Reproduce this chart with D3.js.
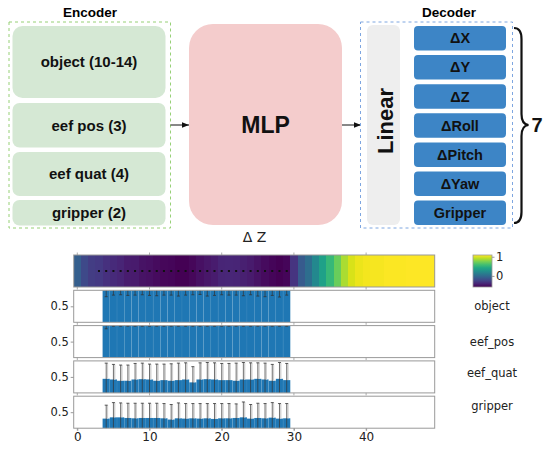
<!DOCTYPE html>
<html lang="en">
<head>
    <meta charset="UTF-8">
    <title>Encoder / MLP / Decoder</title>
    <script src="https://cdn.jsdelivr.net/npm/d3@7"></script>
</head>
<style>
    body { margin: 0; background: #fff; }
    .diag { font-family: "Liberation Sans", Arial, sans-serif; font-weight: bold; }
    .plt { font-family: "DejaVu Sans", sans-serif; fill: #222; }
</style>
<body>
<div class="box"></div>
<script>
    // ---- diagram contents ----
    const encoderParts = ["object (10-14)", "eef pos (3)", "eef quat (4)", "gripper (2)"];
    const decoderParts = ["ΔX", "ΔY", "ΔZ", "ΔRoll", "ΔPitch", "ΔYaw", "Gripper"];

    // ---- chart data ----
    // heat row (attention value per step, colour range -0.58 .. 1.09)
    const heatValues = [-0.08, -0.21, -0.28, -0.30, -0.35, -0.38, -0.41, -0.45, -0.46, -0.50,
        -0.51, -0.53, -0.55, -0.56, -0.58, -0.58, -0.55, -0.51, -0.48, -0.45,
        -0.41, -0.40, -0.41, -0.43, -0.46, -0.50, -0.53, -0.56, -0.58, -0.56,
        -0.33, -0.11, 0.02, 0.20, 0.37, 0.54, 0.71, 0.88, 0.99, 1.04,
        1.06, 1.07, 1.07, 1.08, 1.08, 1.08, 1.09, 1.09, 1.09, 1.09];
    const heatDomain = [-0.58, 1.09];
    const dotSteps = [3, 4, 5, 6, 7, 8, 9, 10, 11, 12, 13, 14, 15, 16, 17, 18, 19, 20, 21, 22, 23, 24, 25, 26, 27, 28, 29];

    const barSteps = [4, 5, 6, 7, 8, 9, 10, 11, 12, 13, 14, 15, 16, 17, 18, 19, 20, 21, 22, 23, 24, 25, 26, 27, 28, 29];
    const rowNames = ["object", "eef_pos", "eef_quat", "gripper"];
    const objectMean = [1, 1, 1, 1, 1, 1, 1, 1, 1, 1, 1, 1, 1, 1, 1, 1, 1, 1, 1, 1, 1, 1, 1, 1, 1, 1];
    const objectErr = [0.2, 0.15, 0.14, 0.16, 0.15, 0.14, 0.16, 0.17, 0.15, 0.15, 0.18, 0.15, 0.14,
        0.13, 0.18, 0.16, 0.14, 0.15, 0.15, 0.17, 0.14, 0.18, 0.2, 0.16, 0.21, 0.15];
    const eefPosMean = [1, 1, 1, 1, 1, 1, 1, 1, 1, 1, 1, 1, 1, 1, 1, 1, 1, 1, 1, 1, 1, 1, 1, 1, 1, 1];
    const eefPosErr = [0.1, 0.02, 0.02, 0.02, 0.02, 0.02, 0.02, 0.02, 0.02, 0.02, 0.02, 0.02, 0.02,
        0.02, 0.02, 0.02, 0.02, 0.02, 0.02, 0.02, 0.02, 0.02, 0.02, 0.02, 0.02, 0.02];
    const eefQuatMean = [0.44, 0.42, 0.38, 0.38, 0.42, 0.43, 0.42, 0.38, 0.40, 0.38, 0.40, 0.42, 0.33,
        0.42, 0.43, 0.42, 0.40, 0.40, 0.38, 0.42, 0.42, 0.44, 0.42, 0.38, 0.44, 0.40];
    const eefQuatErr = [0.49, 0.47, 0.49, 0.49, 0.50, 0.50, 0.48, 0.52, 0.50, 0.53, 0.53, 0.52, 0.49,
        0.52, 0.52, 0.52, 0.52, 0.52, 0.55, 0.53, 0.52, 0.50, 0.51, 0.51, 0.51, 0.52];
    const gripperMean = [0.30, 0.34, 0.34, 0.32, 0.31, 0.32, 0.32, 0.32, 0.31, 0.27, 0.31, 0.30, 0.31,
        0.30, 0.31, 0.29, 0.31, 0.31, 0.32, 0.34, 0.30, 0.32, 0.31, 0.33, 0.30, 0.31];
    const gripperErr = [0.42, 0.46, 0.45, 0.46, 0.47, 0.46, 0.46, 0.46, 0.46, 0.47, 0.48, 0.47, 0.46,
        0.47, 0.46, 0.48, 0.46, 0.46, 0.44, 0.48, 0.44, 0.46, 0.46, 0.47, 0.47, 0.46];
    const xTicks = [0, 10, 20, 30, 40];
    const yTicks = [0.5];

    const width = 544, height = 451;
    const svg = d3.select(".box").append("svg").attr("width", width).attr("height", height)
        .style("background", "#fff");

    const defs = svg.append("defs");
    defs.append("marker").attr("id", "arr").attr("viewBox", "0 0 10 10")
        .attr("refX", 10).attr("refY", 5).attr("markerWidth", 7).attr("markerHeight", 7)
        .attr("orient", "auto")
        .append("path").attr("d", "M0,1 L10,5 L0,9 z").attr("fill", "#111");

    // ================= diagram =================
    const dg = svg.append("g").attr("class", "diag");

    // encoder
    dg.append("text").attr("x", 90).attr("y", 17).attr("text-anchor", "middle")
        .attr("font-size", 13.5).text("Encoder");
    dg.append("rect").attr("x", 9).attr("y", 22).attr("width", 161.5).attr("height", 206)
        .attr("fill", "none").attr("stroke", "#97d077").attr("stroke-dasharray", "3,3");
    const encY = [26, 103, 152, 200];
    const encH = [72, 44.5, 44, 25.5];
    dg.selectAll(".enc").data(encoderParts).join("g").attr("class", "enc")
        .each(function (d, i) {
            const g = d3.select(this);
            g.append("rect").attr("x", 12.5).attr("y", encY[i]).attr("width", 153).attr("height", encH[i])
                .attr("rx", i === 0 ? 10 : 7).attr("fill", "#d5e8d4");
            g.append("text").attr("x", 89).attr("y", encY[i] + encH[i] / 2 + 5.3)
                .attr("text-anchor", "middle").attr("font-size", 15).attr("fill", "#111").text(d);
        });

    // arrows
    dg.append("line").attr("x1", 170.5).attr("y1", 125).attr("x2", 189).attr("y2", 125)
        .attr("stroke", "#111").attr("stroke-width", 1).attr("marker-end", "url(#arr)");
    dg.append("line").attr("x1", 342).attr("y1", 125).attr("x2", 361).attr("y2", 125)
        .attr("stroke", "#111").attr("stroke-width", 1).attr("marker-end", "url(#arr)");

    // MLP
    dg.append("rect").attr("x", 189).attr("y", 24).attr("width", 153).attr("height", 201)
        .attr("rx", 24).attr("fill", "#f4cccc");
    dg.append("text").attr("x", 265.5).attr("y", 133).attr("text-anchor", "middle")
        .attr("font-size", 23).attr("fill", "#111").text("MLP");

    // decoder
    dg.append("text").attr("x", 449).attr("y", 17).attr("text-anchor", "middle")
        .attr("font-size", 13.5).text("Decoder");
    dg.append("rect").attr("x", 360.5).attr("y", 22).attr("width", 152).attr("height", 206)
        .attr("fill", "none").attr("stroke", "#7ea6e0").attr("stroke-dasharray", "3,3");
    dg.append("rect").attr("x", 367).attr("y", 25).attr("width", 33).attr("height", 200)
        .attr("rx", 6).attr("fill", "#eeeeee");
    dg.append("text").attr("transform", "translate(392.5,121) rotate(-90)")
        .attr("text-anchor", "middle").attr("font-size", 22).attr("fill", "#111").text("Linear");
    dg.selectAll(".dec").data(decoderParts).join("g").attr("class", "dec")
        .each(function (d, i) {
            const g = d3.select(this);
            const y0 = 26 + i * 29.1;
            g.append("rect").attr("x", 414).attr("y", y0).attr("width", 92).attr("height", 24.5)
                .attr("rx", 4).attr("fill", "#3d85c6");
            g.append("text").attr("x", 460).attr("y", y0 + 17.3).attr("text-anchor", "middle")
                .attr("font-size", 14.5).attr("fill", "#111").text(d);
        });

    // brace + count
    dg.append("path")
        .attr("d", "M514,28 C519,28 521.5,31 521.5,39 L521.5,114 C521.5,121 523.5,124.5 528.5,125 C523.5,125.5 521.5,129 521.5,136 L521.5,212 C521.5,220 519,223 514,223")
        .attr("fill", "none").attr("stroke", "#111").attr("stroke-width", 2.2);
    dg.append("text").attr("x", 537).attr("y", 132).attr("text-anchor", "middle")
        .attr("font-size", 20).attr("fill", "#111").text(decoderParts.length);

    // ================= chart =================
    const pg = svg.append("g").attr("class", "plt");
    const x = d3.scaleLinear().domain([-0.5, 49.5]).range([73.7, 434.7]);
    const panelH = 32, panelTop0 = 255, panelStep = 35.3;
    const color = d3.scaleSequential(d3.interpolateViridis).domain(heatDomain);

    pg.append("text").attr("x", 254.5).attr("y", 241.7).attr("text-anchor", "middle")
        .attr("font-size", 14).text("Δ Z");

    // heat row
    const hg = pg.append("g").attr("shape-rendering", "crispEdges");
    hg.selectAll("rect").data(heatValues).join("rect")
        .attr("x", (d, i) => x(i - 0.5)).attr("width", (d, i) => x(i + 0.5) - x(i - 0.5) + (i < heatValues.length - 1 ? 1 : 0))
        .attr("y", panelTop0).attr("height", panelH).attr("fill", d => color(d));
    pg.append("g").selectAll("rect").data(dotSteps).join("rect")
        .attr("x", d => x(d) - 1).attr("y", panelTop0 + 15).attr("width", 2).attr("height", 2)
        .attr("fill", "#111");

    function frame(top) {
        pg.append("rect").attr("x", x.range()[0]).attr("y", top)
            .attr("width", x.range()[1] - x.range()[0]).attr("height", panelH)
            .attr("fill", "none").attr("stroke", "#999").attr("stroke-width", 1);
        // small tick marks on the x positions
        pg.append("g").selectAll("line").data(xTicks).join("line")
            .attr("x1", d => x(d)).attr("x2", d => x(d))
            .attr("y1", top + panelH).attr("y2", top + panelH + 2.5)
            .attr("stroke", "#999").attr("stroke-width", 0.8);
    }
    frame(panelTop0);
    pg.append("g").selectAll("line").data(xTicks).join("line")
        .attr("x1", d => x(d)).attr("x2", d => x(d))
        .attr("y1", panelTop0 - 2.5).attr("y2", panelTop0)
        .attr("stroke", "#999").attr("stroke-width", 0.8);

    // colorbar
    const cbX = 473, cbW = 19;
    const cb = d3.scaleLinear().domain(heatDomain).range([panelTop0 + panelH, panelTop0]);
    const grad = defs.append("linearGradient").attr("id", "cbg")
        .attr("x1", 0).attr("y1", 1).attr("x2", 0).attr("y2", 0);
    grad.selectAll("stop").data(d3.range(0, 1.001, 0.1)).join("stop")
        .attr("offset", d => d).attr("stop-color", d => d3.interpolateViridis(d));
    pg.append("rect").attr("x", cbX).attr("y", panelTop0).attr("width", cbW).attr("height", panelH)
        .attr("fill", "url(#cbg)").attr("stroke", "#999").attr("stroke-width", 0.8);
    const cbAxis = pg.append("g").attr("transform", `translate(${cbX + cbW},0)`)
        .call(d3.axisRight(cb).tickValues([0, 1]).tickSize(2.5).tickPadding(1.5).tickFormat(d3.format("d")));
    cbAxis.select(".domain").remove();
    cbAxis.selectAll("line").attr("stroke", "#999");
    cbAxis.selectAll("text").attr("font-family", "DejaVu Sans").attr("font-size", 11.5).attr("fill", "#222");

    // bar rows
    const rows = [
        { name: rowNames[0], mean: objectMean, err: objectErr },
        { name: rowNames[1], mean: eefPosMean, err: eefPosErr },
        { name: rowNames[2], mean: eefQuatMean, err: eefQuatErr },
        { name: rowNames[3], mean: gripperMean, err: gripperErr }
    ];
    const labelDy = [4, 4, 0, -2];
    rows.forEach((row, r) => {
        const top = panelTop0 + (r + 1) * panelStep;
        const y = d3.scaleLinear().domain([0, 1]).range([top + panelH, top]);
        const clipId = "clip" + r;
        defs.append("clipPath").attr("id", clipId).append("rect")
            .attr("x", x.range()[0]).attr("y", top).attr("width", x.range()[1] - x.range()[0]).attr("height", panelH);
        const g = pg.append("g").attr("clip-path", `url(#${clipId})`);
        g.selectAll(".bar").data(barSteps).join("rect").attr("class", "bar")
            .attr("x", d => x(d - 0.5)).attr("width", d => x(d + 0.5) - x(d - 0.5))
            .attr("y", (d, i) => y(row.mean[i])).attr("height", (d, i) => y(0) - y(row.mean[i]))
            .attr("fill", "#1f77b4").attr("stroke", "rgba(255,255,255,0.1)").attr("stroke-width", 0.5);
        // error bars
        const eb = g.selectAll(".eb").data(barSteps).join("g").attr("class", "eb");
        eb.append("line")
            .attr("x1", d => x(d) + 1.3).attr("x2", d => x(d) + 1.3)
            .attr("y1", (d, i) => y(row.mean[i])).attr("y2", (d, i) => y(row.mean[i] + row.err[i]))
            .attr("stroke", "#d0d0d0").attr("stroke-width", 1.3);
        eb.append("line")
            .attr("x1", d => x(d)).attr("x2", d => x(d))
            .attr("y1", (d, i) => y(row.mean[i] - row.err[i])).attr("y2", (d, i) => y(row.mean[i] + row.err[i]))
            .attr("stroke", "#333").attr("stroke-width", 0.7);
        eb.append("line")
            .attr("x1", d => x(d) - 1.5).attr("x2", d => x(d) + 1.5)
            .attr("y1", (d, i) => y(row.mean[i] + row.err[i])).attr("y2", (d, i) => y(row.mean[i] + row.err[i]))
            .attr("stroke", "#333").attr("stroke-width", 0.8);
        eb.append("line")
            .attr("x1", d => x(d) - 1.5).attr("x2", d => x(d) + 1.5)
            .attr("y1", (d, i) => y(row.mean[i] - row.err[i])).attr("y2", (d, i) => y(row.mean[i] - row.err[i]))
            .attr("stroke", "#333").attr("stroke-width", 0.8);

        frame(top);
        const ya = pg.append("g").attr("transform", `translate(${x.range()[0]},0)`)
            .call(d3.axisLeft(y).tickValues(yTicks).tickSize(3).tickPadding(2).tickFormat(d3.format(".1f")));
        ya.select(".domain").remove();
        ya.selectAll("line").attr("stroke", "#999");
        ya.selectAll("text").attr("font-family", "DejaVu Sans").attr("font-size", 11.5).attr("fill", "#222");

        pg.append("text").attr("x", 492).attr("y", top + panelH / 2 + labelDy[r])
            .attr("text-anchor", "middle").attr("font-size", 11.5).text(row.name);

        if (r === rows.length - 1) {
            const xa = pg.append("g").attr("transform", `translate(0,${top + panelH})`)
                .call(d3.axisBottom(x).tickValues(xTicks).tickSize(2.5).tickPadding(2));
            xa.select(".domain").remove();
            xa.selectAll("line").attr("stroke", "#999");
            xa.selectAll("text").attr("font-family", "DejaVu Sans").attr("font-size", 12).attr("fill", "#222");
        }
    });
</script>
</body>
</html>
